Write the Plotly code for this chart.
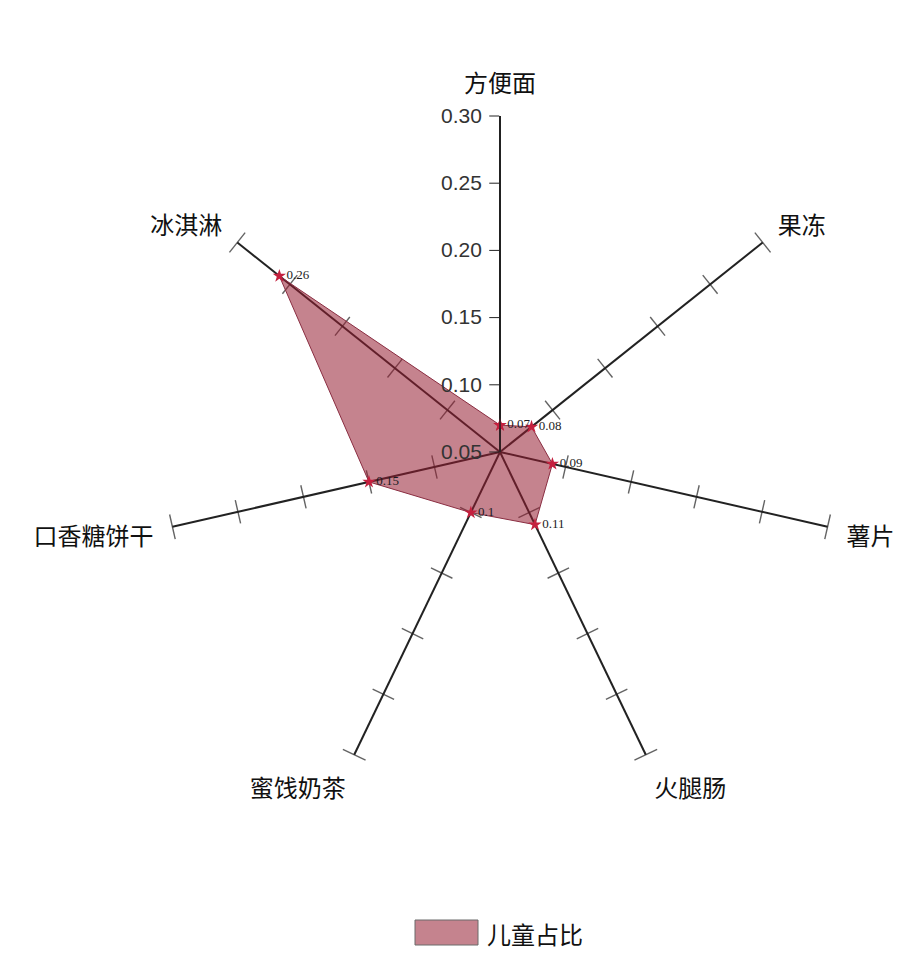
import plotly.graph_objects as go

# 各类零食中儿童占比
categories = ["方便面", "果冻", "薯片", "火腿肠", "蜜饯奶茶", "口香糖饼干", "冰淇淋"]
values = [0.07, 0.08, 0.09, 0.11, 0.10, 0.15, 0.26]
value_labels = ["0.07", "0.08", "0.09", "0.11", "0.1", "0.15", "0.26"]
series_name = "儿童占比"

axis_ticks = [0.05, 0.10, 0.15, 0.20, 0.25, 0.30]
axis_ticktext = ["0.05", "0.10", "0.15", "0.20", "0.25", "0.30"]

FILL = "rgba(150,30,50,0.55)"
EDGE = "#8a2e42"
CJK = "Noto Sans CJK SC"

n = len(categories)
step = 360 / n
R = 336  # polar radius in px
CX, CY = 492, 513  # domain centre (px from left / bottom)

fig = go.Figure()

# tick marks on the spokes other than the labelled top one
tick_r, tick_theta, tick_angle, tick_size = [], [], [], []
for i, cat in enumerate(categories[1:], start=1):
    for v in axis_ticks[1:]:
        tick_r.append(v)
        tick_theta.append(cat)
        tick_angle.append(i * step)
        tick_size.append(18 if v == axis_ticks[-1] else 17)

fig.add_trace(go.Scatterpolar(
    r=tick_r,
    theta=tick_theta,
    mode="markers",
    marker=dict(symbol="line-ew", size=tick_size, angle=tick_angle,
                line=dict(width=1.4, color="#222")),
    cliponaxis=False,
    hoverinfo="skip",
    showlegend=False,
))

fig.add_trace(go.Scatterpolar(
    r=values + values[:1],
    theta=categories + categories[:1],
    mode="lines+markers+text",
    fill="toself",
    fillcolor=FILL,
    line=dict(color=EDGE, width=1),
    marker=dict(symbol="star", size=10, color="#c4203e"),
    text=value_labels + [""],
    textposition="middle right",
    textfont=dict(family="Liberation Serif", size=13, color="#1c1c24"),
    name=series_name,
    cliponaxis=False,
    showlegend=False,
))

fig.update_layout(
    width=902,
    height=957,
    margin=dict(l=0, r=0, t=0, b=0),
    paper_bgcolor="white",
    plot_bgcolor="white",
    polar=dict(
        domain=dict(x=[(CX - R) / 902, (CX + R) / 902],
                    y=[(CY - R) / 957, (CY + R) / 957]),
        bgcolor="white",
        radialaxis=dict(
            range=[0.05, 0.30],
            angle=90,
            side="counterclockwise",
            tickvals=axis_ticks,
            ticktext=axis_ticktext,
            tickangle=90,
            ticks="outside",
            ticklen=10,
            tickcolor="#222",
            showline=True,
            linecolor="#222",
            linewidth=1.5,
            showgrid=False,
            tickfont=dict(family="Liberation Sans", size=21, color="#333"),
        ),
        angularaxis=dict(
            categoryorder="array",
            categoryarray=categories,
            direction="clockwise",
            rotation=90,
            showline=False,
            showgrid=True,
            gridcolor="#222",
            gridwidth=1.5,
            ticks="outside",
            ticklen=14,
            tickcolor="rgba(0,0,0,0)",
            tickfont=dict(family=CJK, size=24, color="#111"),
        ),
    ),
    shapes=[dict(type="rect", xref="paper", yref="paper",
                 x0=407 / 902, x1=470 / 902, y0=1 - 937 / 957, y1=1 - 912 / 957,
                 fillcolor=FILL, line=dict(color="#6a6a6a", width=1))],
    annotations=[dict(text=series_name, xref="paper", yref="paper",
                      x=477 / 902, y=1 - 925 / 957, xanchor="left", yanchor="middle",
                      showarrow=False, font=dict(family=CJK, size=24, color="#111"))],
)

fig.write_html("out.html")
